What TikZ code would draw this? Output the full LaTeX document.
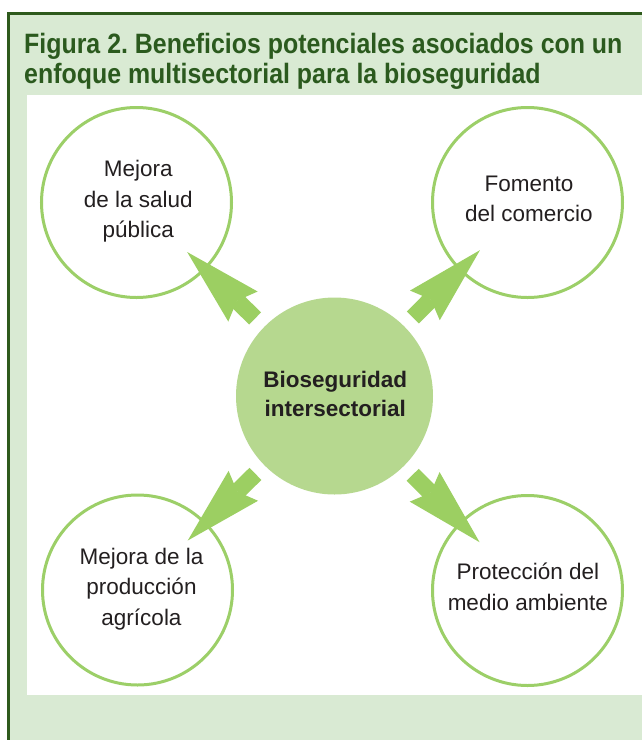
\documentclass[tikz,border=0pt]{standalone}
\usepackage{fontspec}
\setmainfont{Liberation Sans}
\usetikzlibrary{calc,arrows.meta}
\definecolor{bgGreen}{HTML}{D9EAD3}
\definecolor{borderGreen}{HTML}{2E5A1C}
\definecolor{titleGreen}{HTML}{2B5A1E}
\definecolor{ringGreen}{HTML}{9CCF68}
\definecolor{arrowGreen}{HTML}{9CCF62}
\definecolor{hubGreen}{HTML}{B6D88F}
\definecolor{ink}{HTML}{231F20}
\frenchspacing
\begin{document}
\begin{tikzpicture}[x=1pt,y=-1pt,
  ring/.style={circle, draw=ringGreen, line width=3pt, fill=white, minimum size=190pt, inner sep=0pt},
  hub/.style={circle, fill=hubGreen, minimum size=197pt, inner sep=0pt},
  caption/.style={align=center, inner sep=0pt, text=ink, font=\fontsize{22.5}{30.5}\selectfont},
  titleline/.style={anchor=base west, inner sep=0pt, text=titleGreen, font=\fontsize{28}{30}\selectfont\bfseries},
  bigarrow/.style={draw=arrowGreen, line width=17pt, -{Stealth[length=78pt,width=42pt,inset=8.4pt,line width=0pt]}},
]
\useasboundingbox (0,0) rectangle (642,740);
% frame
\fill[bgGreen] (8.3,13.7) rectangle (642,740);
\draw[borderGreen, line width=2.5pt] (8.3,740) -- (8.3,13.7) -- (642,13.7);
\fill[white] (27,95) rectangle (642,695);
% title
\node[titleline] (title1) at (24,53) {\scalebox{0.89}[1]{Figura 2. Beneficios potenciales asociados con un}};
\node[titleline] (title2) at (24,83) {\scalebox{0.89}[1]{enfoque multisectorial para la bioseguridad}};
% circles
\node[hub] (hub) at (334.5,396) {};
\node[ring] (tl) at (136.5,202.5) {};
\node[ring] (tr) at (527.5,202.5) {};
\node[ring] (bl) at (137.5,590) {};
\node[ring] (br) at (527.5,590.5) {};
% labels
\node[caption] (tltext) at (138.3,201.6) {Mejora\\de la salud\\pública};
\node[caption] (trtext) at (529,198.8) {Fomento\\del comercio};
\node[caption] (bltext) at (141.5,589.1) {Mejora de la\\producción\\agrícola};
\node[caption] (brtext) at (527.8,586.8) {Protección del\\medio ambiente};
\node[caption, font=\fontsize{22.5}{29}\selectfont\bfseries] (hubtext) at (335.3,394.3) {Bioseguridad\\intersectorial};
% arrows
\foreach \t in {tl,tr,bl,br}{
  \draw[bigarrow] ($(hub.center)!111pt!(\t.center)$) -- ($(hub.center)!206pt!(\t.center)$);
}
\end{tikzpicture}
\end{document}
